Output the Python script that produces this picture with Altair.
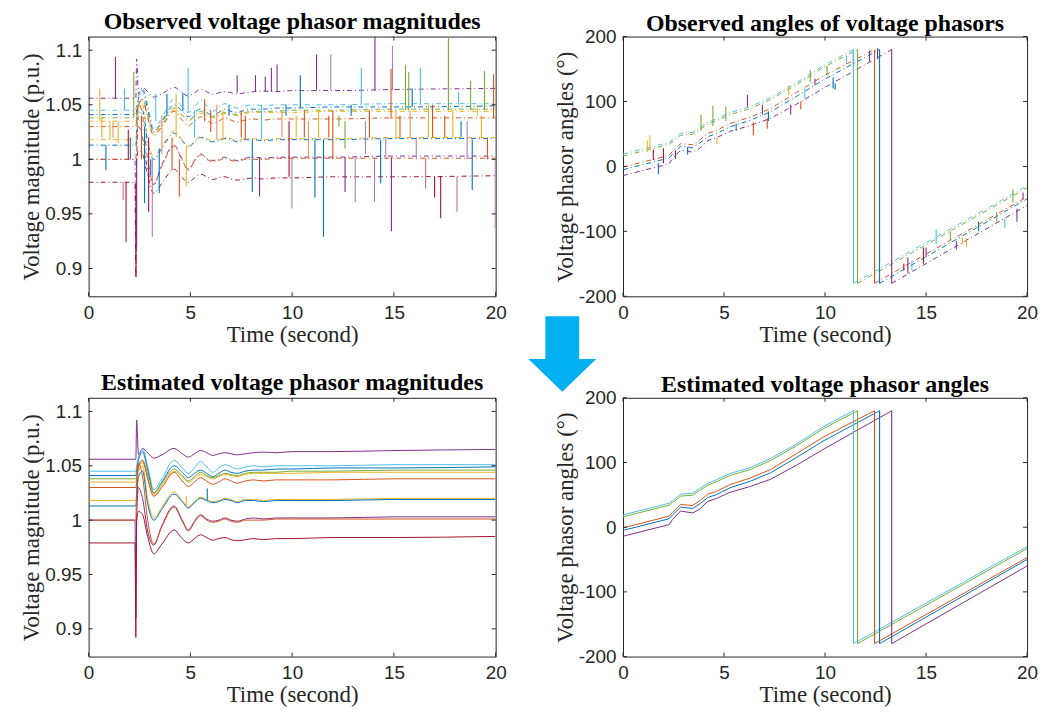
import altair as alt
import pandas as pd

# ---------------- colours ----------------
COLOR_NAMES = ["blue", "orange", "yellow", "purple", "green", "lightblue", "darkred", "pink", "lpurple", "lorange"]
COLOR_HEX = ["#0072BD", "#D95319", "#EDB120", "#7E2F8E", "#77AC30", "#4DBEEE", "#A2142F", "#C8707F", "#B07BBB", "#E8906A"]

# ---------------- magnitudes (p.u.) ----------------
MAG_T = [0, 2.28, 2.32, 2.36, 2.45, 2.65, 2.9, 3.2, 3.6, 4.2, 4.6, 4.9, 5.2, 5.5, 5.8, 6.1, 6.4, 6.7,
         7.0, 7.3, 7.7, 8.1, 8.6, 9.2, 10, 12, 15, 20]
MAG_NAMES = ["m1", "m2", "m3", "m4", "m5", "m6", "m7", "m8", "m9", "m10", "m11"]
MAG_COLORS = ["purple", "lightblue", "blue", "green", "yellow", "orange", "yellow", "blue", "purple", "orange", "darkred"]
MAG_1 = [1.056, 1.056, 1.056, 1.092, 1.060, 1.066, 1.062, 1.057, 1.060, 1.066, 1.061, 1.058, 1.061, 1.064,
         1.062, 1.0595, 1.061, 1.062, 1.061, 1.060, 1.061, 1.062, 1.0625, 1.062, 1.063, 1.063, 1.064, 1.065]
MAG_2 = [1.045, 1.045, 1.045, 1.050, 1.058, 1.065, 1.050, 1.028, 1.038, 1.055, 1.048, 1.043, 1.048, 1.054,
         1.049, 1.044, 1.048, 1.051, 1.049, 1.047, 1.049, 1.050, 1.049, 1.050, 1.050, 1.050, 1.051, 1.051]
MAG_3 = [1.041, 1.041, 1.041, 1.045, 1.055, 1.063, 1.046, 1.025, 1.035, 1.050, 1.044, 1.039, 1.043, 1.046,
         1.043, 1.040, 1.043, 1.046, 1.044, 1.043, 1.045, 1.046, 1.046, 1.047, 1.047, 1.048, 1.048, 1.049]
MAG_4 = [1.038, 1.038, 1.038, 1.040, 1.050, 1.055, 1.042, 1.025, 1.034, 1.047, 1.041, 1.036, 1.040, 1.044,
         1.041, 1.039, 1.041, 1.043, 1.042, 1.041, 1.043, 1.044, 1.044, 1.044, 1.045, 1.045, 1.046, 1.046]
MAG_5 = [1.035, 1.035, 1.035, 1.038, 1.048, 1.053, 1.040, 1.023, 1.032, 1.045, 1.040, 1.035, 1.039, 1.042,
         1.040, 1.038, 1.040, 1.042, 1.041, 1.040, 1.042, 1.043, 1.043, 1.043, 1.043, 1.044, 1.044, 1.044]
MAG_6 = [1.030, 1.030, 1.030, 1.035, 1.050, 1.055, 1.038, 1.022, 1.030, 1.044, 1.036, 1.031, 1.035, 1.039,
         1.036, 1.033, 1.035, 1.038, 1.036, 1.034, 1.036, 1.037, 1.036, 1.037, 1.037, 1.037, 1.038, 1.038]
MAG_7 = [1.018, 1.018, 1.018, 1.025, 1.045, 1.050, 1.020, 1.002, 1.012, 1.026, 1.018, 1.012, 1.017, 1.021,
         1.019, 1.017, 1.018, 1.020, 1.019, 1.017, 1.019, 1.019, 1.018, 1.019, 1.019, 1.019, 1.020, 1.020]
MAG_8 = [1.013, 1.013, 1.013, 1.020, 1.040, 1.045, 1.015, 1.000, 1.010, 1.024, 1.017, 1.011, 1.016, 1.020,
         1.018, 1.016, 1.017, 1.019, 1.018, 1.016, 1.018, 1.018, 1.017, 1.018, 1.018, 1.018, 1.019, 1.019]
MAG_9 = [1.000, 1.000, 0.910, 1.000, 1.030, 1.020, 0.990, 0.977, 0.995, 1.013, 1.000, 0.991, 0.999, 1.005,
         1.001, 0.999, 1.000, 1.002, 1.000, 0.999, 1.001, 1.002, 1.001, 1.002, 1.002, 1.002, 1.003, 1.003]
MAG_10 = [1.000, 1.000, 1.000, 1.030, 1.052, 1.040, 1.000, 0.978, 0.994, 1.012, 0.999, 0.990, 0.998, 1.004,
          1.000, 0.998, 0.999, 1.001, 0.999, 0.998, 1.000, 1.000, 1.000, 1.001, 1.001, 1.001, 1.001, 1.001]
MAG_11 = [0.979, 0.979, 0.892, 1.000, 1.008, 1.005, 0.985, 0.969, 0.978, 0.991, 0.983, 0.979, 0.983, 0.9865,
          0.984, 0.9815, 0.983, 0.984, 0.982, 0.981, 0.982, 0.983, 0.982, 0.983, 0.983, 0.984, 0.984, 0.985]
MAG_ALL = [MAG_1, MAG_2, MAG_3, MAG_4, MAG_5, MAG_6, MAG_7, MAG_8, MAG_9, MAG_10, MAG_11]

# outliers in the observed magnitudes: time, normal value, outlier value, colour
OBS_MAG_SPK_T = [1.32, 2.22, 2.33, 2.36, 1.76, 1.84, 1.70, 3.13, 4.89, 4.63, 4.46, 4.80, 3.47, 7.30, 8.20,
                 8.68, 8.98, 9.26, 8.40, 8.04, 9.99, 11.20, 11.90, 11.54, 10.40, 11.12, 12.60, 13.10, 13.40,
                 14.07, 14.05, 14.93, 14.88, 14.35, 14.86, 15.57, 15.73, 16.30, 15.90, 16.56, 17.30, 17.00,
                 18.10, 17.68, 18.18, 18.77, 18.85, 19.45, 19.90, 19.98,
                 0.55, 0.65, 0.85, 1.05, 1.2, 1.45, 1.95, 2.05, 2.6, 2.75, 2.95, 3.05, 3.3, 3.6, 3.85, 4.1,
                 4.3, 5.2, 5.7, 6.0, 6.3, 6.6, 6.9, 7.5, 7.7, 8.5, 9.5, 9.7, 9.85, 10.2, 10.6, 10.8, 11.3,
                 11.8, 12.0, 12.3, 12.6, 12.9, 13.6, 13.8, 14.6, 15.1, 15.3, 15.8, 16.1, 16.7, 16.9, 17.5,
                 17.9, 18.3, 18.6, 19.1, 19.3, 19.6]
OBS_MAG_SPK_B = [1.056, 1.038, 0.979, 1.000, 1.045, 0.979, 0.979, 1.000, 1.043, 1.044, 1.000, 1.012, 1.010,
                 1.061, 1.062, 1.062, 1.062, 1.062, 1.002, 1.018, 1.002, 1.063, 1.063, 1.018, 1.047, 1.018,
                 1.002, 1.002, 1.050, 1.063, 1.002, 1.063, 1.002, 1.018, 1.037, 1.045, 1.045, 1.050, 1.048,
                 1.001, 0.984, 0.984, 0.984, 1.045, 1.050, 1.045, 1.018, 1.045, 1.038, 1.002,
                 1.035, 1.038, 1.013, 1.035, 1.035, 1.035, 1.000, 1.000, 1.040, 1.030, 1.020, 1.000, 1.035,
                 1.040, 1.040, 1.020, 1.020, 1.020, 1.035, 1.045, 1.018, 1.018, 1.040, 1.020, 1.018, 1.018,
                 1.020, 1.040, 1.035, 1.020, 1.020, 1.035, 1.020, 1.020, 1.045, 1.040, 1.035, 1.040, 1.035,
                 1.020, 1.020, 1.020, 1.020, 1.020, 1.020, 1.020, 1.020, 1.020, 1.020, 1.020, 1.035, 1.040,
                 1.020, 1.020]
OBS_MAG_SPK_E = [1.094, 1.080, 0.892, 0.920, 1.065, 0.924, 0.963, 0.929, 1.084, 1.061, 0.966, 0.975, 0.969,
                 1.077, 1.077, 1.076, 1.084, 1.087, 0.966, 0.970, 0.955, 1.096, 1.096, 0.929, 1.077, 0.965,
                 0.970, 0.961, 1.084, 1.113, 0.961, 1.104, 0.934, 0.978, 1.083, 1.086, 1.080, 1.084, 1.065,
                 0.973, 0.946, 0.965, 0.952, 1.113, 1.062, 1.072, 0.972, 1.081, 1.078, 0.937,
                 1.065, 1.020, 0.990, 1.018, 1.020, 1.015, 1.027, 1.020, 1.000, 0.960, 0.952, 0.985, 1.060,
                 1.005, 1.060, 0.990, 1.060, 1.045, 1.055, 1.025, 1.050, 1.045, 1.050, 1.045, 1.040, 1.050,
                 1.045, 1.050, 0.984, 1.040, 1.045, 1.000, 1.045, 1.040, 1.000, 1.030, 1.010, 1.050, 1.005,
                 1.045, 1.000, 1.045, 1.040, 1.045, 1.000, 1.050, 1.050, 1.040, 1.045, 1.035, 1.000, 1.050,
                 1.040, 1.000]
OBS_MAG_SPK_C = ["purple", "green", "darkred", "purple", "lightblue", "darkred", "pink", "lpurple", "lightblue",
                 "blue", "orange", "yellow", "blue", "purple", "purple", "purple", "purple", "purple", "purple",
                 "blue", "lpurple", "purple", "lpurple", "blue", "blue", "blue", "purple", "lpurple",
                 "lightblue", "purple", "lpurple", "lpurple", "purple", "blue", "orange", "green", "green",
                 "lightblue", "blue", "pink", "darkred", "darkred", "pink", "green", "lightblue", "green",
                 "blue", "green", "orange", "lpurple",
                 "yellow", "yellow", "blue", "yellow", "lorange", "yellow", "darkred", "blue", "orange", "blue",
                 "darkred", "blue", "lightblue", "lorange", "blue", "orange", "yellow", "lightblue", "orange",
                 "orange", "lorange", "yellow", "blue", "orange", "orange", "lightblue", "lorange", "blue",
                 "darkred", "yellow", "orange", "lorange", "yellow", "orange", "orange", "green", "green",
                 "blue", "lpurple", "orange", "lpurple", "yellow", "orange", "lorange", "lpurple", "yellow",
                 "orange", "orange", "yellow", "blue", "lpurple", "yellow", "yellow", "orange"]

EST_MAG_SPK_T = [5.83, 4.80]
EST_MAG_SPK_B = [1.018, 1.013]
EST_MAG_SPK_E = [1.029, 1.022]
EST_MAG_SPK_C = ["blue", "yellow"]

# ---------------- angles (degrees) ----------------
ANG_NAMES = ["a1", "a2", "a3", "a4", "a5"]
ANG_COLORS = ["lightblue", "green", "orange", "blue", "purple"]
ANG_T1 = [0, 2.28, 2.45, 2.85, 3.45, 3.8, 4.2, 4.6, 5.3, 6.3, 7.3, 8.6, 9.9]
ANG_1A = [19, 37, 41, 51, 52.5, 60, 68, 73, 83, 92, 106, 129, 155]
ANG_2A = [16, 34, 38, 48, 49.5, 57, 65, 70, 80, 89, 103, 126, 152]
ANG_3A = [-1, 17, 23, 35, 33.5, 41, 51, 55, 66, 76, 89, 114, 139]
ANG_4A = [-5, 13, 19, 31, 29, 36, 46, 50, 61, 71, 84, 108, 133]
ANG_5A = [-14, 4, 12, 25, 22, 28, 40, 44, 54, 63, 74, 96, 120]
ANG_WRAP_T = [11.41, 11.61, 12.45, 12.7, 13.3]
ANG_END = [-30, -33, -47, -50, -60]
ANG_ALL = [ANG_1A, ANG_2A, ANG_3A, ANG_4A, ANG_5A]

OBS_ANG_SPK_T = [1.33, 1.2, 1.5, 1.75, 2.0, 2.6, 3.86, 4.45, 5.09, 4.65, 6.16, 6.45, 7.14, 7.2, 8.2, 8.3,
                 9.27, 9.5, 10.1, 10.5, 10.4, 11.06, 11.4, 12.2, 12.6, 14.1, 14.3, 14.87, 15.5, 16.2, 16.8,
                 17.0, 18.5, 19.3, 19.5, 19.8, 3.2, 5.6, 6.9, 8.8, 9.0, 13.9, 15.0, 16.5, 17.6, 18.9]
OBS_ANG_SPK_B = [25, 22, 10, -12, 5, 25, 55, 62, 70, 45, 92, 68, 75, 70, 110, 95, 130, 125, 140, 128, 137,
                 158, 155, 162, 165, -165, -160, -150, -120, -115, -120, -125, -85, -55, -65, -50,
                 30, 66, 80, 100, 105, -160, -140, -128, -100, -95]
OBS_ANG_SPK_E = [48, 40, 26, 5, 28, 12, 80, 93, 92, 35, 110, 48, 58, 85, 125, 80, 148, 135, 155, 118, 120,
                 170, 175, 178, 182, -140, -145, -125, -97, -100, -110, -110, -70, -35, -85, -40,
                 18, 55, 95, 88, 120, -150, -125, -115, -85, -80]
OBS_ANG_SPK_C = ["yellow", "yellow", "darkred", "blue", "darkred", "purple", "green", "green", "green",
                 "yellow", "purple", "orange", "orange", "blue", "yellow", "purple", "green", "purple",
                 "green", "blue", "blue", "lightblue", "purple", "purple", "purple", "purple", "lightblue",
                 "darkred", "lightblue", "green", "yellow", "yellow", "green", "green", "purple", "purple",
                 "blue", "blue", "purple", "orange", "lightblue", "darkred", "purple", "purple", "blue",
                 "lightblue"]

MAG_TICKS = [0.9, 0.95, 1.0, 1.05, 1.1]
ANG_TICKS = [-200, -100, 0, 100, 200]
T_TICKS = [0, 5, 10, 15, 20]

BOX = "#262626"


def mag_lines():
    rows = []
    for name, col, vals in zip(MAG_NAMES, MAG_COLORS, MAG_ALL):
        for i, (t, v) in enumerate(zip(MAG_T, vals)):
            rows.append({"t": t, "v": v, "s": name, "c": col, "o": i})
    return pd.DataFrame(rows)


def ang_lines():
    rows = []
    for k, (name, col, vals) in enumerate(zip(ANG_NAMES, ANG_COLORS, ANG_ALL)):
        tw = ANG_WRAP_T[k]
        pre_t = ANG_T1 + [tw]
        pre_v = vals + [180]
        for i, (t, v) in enumerate(zip(pre_t, pre_v)):
            rows.append({"t": t, "v": v, "s": name + "a", "c": col, "o": i})
        for i, (t, v) in enumerate(zip([tw, 20], [-180, ANG_END[k]])):
            rows.append({"t": t, "v": v, "s": name + "b", "c": col, "o": i})
    return pd.DataFrame(rows)


def spikes(ts, bs, es, cs):
    return pd.DataFrame({"t": ts, "v": bs, "v2": es, "c": cs})


def wraps():
    return pd.DataFrame({"t": ANG_WRAP_T, "v": [180] * 5, "v2": [-180] * 5, "c": ANG_COLORS})


def panel(title, lines_df, spk_df, ydom, yticks, ytitle, label_expr, dashed, smooth, w, h, tdy,
          extra=None):
    xs = alt.Scale(domain=[0, 20], nice=False, zero=False)
    ys = alt.Scale(domain=ydom, nice=False, zero=False)
    xax = alt.Axis(values=T_TICKS, title="Time (second)", labelFlush=False, labelOverlap=False,
                   format="d")
    yax = alt.Axis(values=yticks, title=ytitle, labelFlush=False, labelOverlap=False,
                   labelExpr=label_expr)
    cs = alt.Scale(domain=COLOR_NAMES, range=COLOR_HEX)
    X = alt.X("t:Q", scale=xs, axis=xax)
    Y = alt.Y("v:Q", scale=ys, axis=yax)
    C = alt.Color("c:N", scale=cs, legend=None)

    kw = dict(strokeWidth=1, clip=True)
    if dashed:
        kw["strokeDash"] = [5, 3, 1, 3]
    if smooth:
        kw["interpolate"] = "monotone"
    lines = alt.Chart(lines_df).mark_line(**kw).encode(x=X, y=Y, color=C, detail="s:N", order="o:Q")
    layers = [lines]
    if spk_df is not None:
        layers.append(alt.Chart(spk_df).mark_rule(strokeWidth=1.1, clip=True).encode(
            x=X, y=Y, y2="v2:Q", color=C))
    yt = pd.DataFrame({"v": yticks})
    xt = pd.DataFrame({"t": T_TICKS})
    layers.append(alt.Chart(yt).mark_rule(color=BOX, strokeWidth=1).encode(
        y=Y, x=alt.value(0), x2=alt.value(4)))
    layers.append(alt.Chart(yt).mark_rule(color=BOX, strokeWidth=1).encode(
        y=Y, x=alt.value(w - 4), x2=alt.value(w)))
    layers.append(alt.Chart(xt).mark_rule(color=BOX, strokeWidth=1).encode(
        x=X, y=alt.value(h), y2=alt.value(h - 4)))
    layers.append(alt.Chart(xt).mark_rule(color=BOX, strokeWidth=1).encode(
        x=X, y=alt.value(0), y2=alt.value(4)))
    if extra is not None:
        layers.append(extra)
    return alt.layer(*layers).properties(
        width=w, height=h,
        title=alt.TitleParams(title, font="Liberation Serif", fontSize=24, fontWeight="bold",
                              color="black", offset=2, frame="group", dy=tdy))


MAG_LABEL = "format(datum.value, '~g')"
ANG_LABEL = "datum.value < 0 ? '-' + format(-datum.value, 'd') : format(datum.value, 'd')"

ARROW_PATH = "M-0.447,-1 L0.447,-1 L0.447,0.13 L0.895,0.13 L0,1 L-0.895,0.13 L-0.447,0.13 Z"
arrow = alt.Chart(pd.DataFrame({"k": [0]})).mark_point(
    shape=ARROW_PATH, size=5776, filled=True, color="#00B0F0", opacity=1, strokeWidth=0, clip=False
).encode(x=alt.value(476), y=alt.value(319))

WL, WR = 409, 406
HT, HB = 261, 260

obs_mag = panel("Observed voltage phasor magnitudes", mag_lines(),
                spikes(OBS_MAG_SPK_T, OBS_MAG_SPK_B, OBS_MAG_SPK_E, OBS_MAG_SPK_C),
                [0.8745, 1.1125], MAG_TICKS, "Voltage magnitude (p.u.)", MAG_LABEL, True, True,
                WL, HT, 0, extra=arrow)
obs_spk_ang = pd.concat([spikes(OBS_ANG_SPK_T, OBS_ANG_SPK_B, OBS_ANG_SPK_E, OBS_ANG_SPK_C), wraps()])
obs_ang = panel("Observed angles of voltage phasors", ang_lines(), obs_spk_ang,
                [-200, 200], ANG_TICKS, "Voltage phasor angles (°)", ANG_LABEL, True, False,
                WR, HT, 10)
est_mag = panel("Estimated voltage phasor magnitudes", mag_lines(),
                spikes(EST_MAG_SPK_T, EST_MAG_SPK_B, EST_MAG_SPK_E, EST_MAG_SPK_C),
                [0.8745, 1.1125], MAG_TICKS, "Voltage magnitude (p.u.)", MAG_LABEL, False, True,
                WL, HB, 0)
est_ang = panel("Estimated voltage phasor angles", ang_lines(), wraps(),
                [-200, 200], ANG_TICKS, "Voltage phasor angles (°)", ANG_LABEL, False, False,
                WR, HB, 10)

chart = alt.concat(
    obs_mag, obs_ang, est_mag, est_ang,
    columns=2,
    bounds="flush",
    spacing={"row": 102, "column": 128},
).properties(
    padding={"left": 12, "top": 0, "right": 0, "bottom": 0}
).configure_view(
    stroke=BOX, strokeWidth=1
).configure_axis(
    grid=False, domain=False, ticks=False,
    labelFont="Liberation Sans", labelFontSize=19, labelColor=BOX, labelPadding=7,
    titleFont="Liberation Serif", titleFontSize=23, titleFontWeight="normal", titleColor=BOX,
    titlePadding=1
)

chart.save("out.html", embed_options={"renderer": "svg", "actions": False})
